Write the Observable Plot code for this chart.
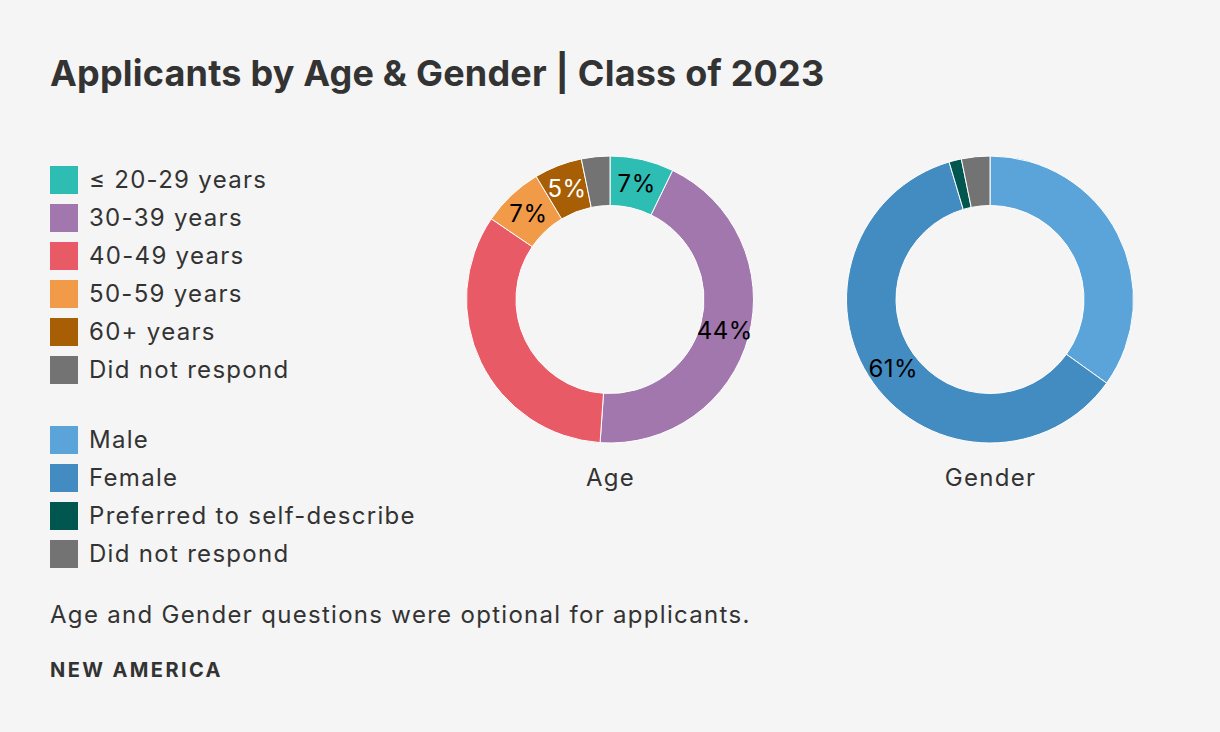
<!DOCTYPE html>
<html><head><meta charset="utf-8">
<script src="https://cdn.jsdelivr.net/npm/d3@7"></script>
<script src="https://cdn.jsdelivr.net/npm/@observablehq/plot@0.6"></script>
<style>
body{margin:0;background:#f5f5f5;font-family:Inter, "Noto Sans", sans-serif;color:#333;}
#wrap{position:relative;width:1220px;height:732px;overflow:hidden;background:#f5f5f5;}
.abs{position:absolute;white-space:nowrap;line-height:1;}
#title{left:50px;top:55px;font-size:36px;font-weight:700;letter-spacing:0.2px;}
#caption{left:50px;top:603px;font-size:24px;letter-spacing:1.3px;}
#source{left:50px;top:660px;font-size:20px;font-weight:700;letter-spacing:2.4px;}
.row{position:absolute;left:50px;height:28px;display:flex;align-items:center;}
.sw{width:28px;height:28px;margin-right:11px;flex:none;}
.lt{font-size:24px;line-height:1;white-space:nowrap;letter-spacing:1.3px;}
#chart{position:absolute;left:420px;top:140px;}
</style></head>
<body><div id="wrap">
<div class="abs" id="title">Applicants by Age &amp; Gender | Class of 2023</div>
<div id="legend"></div>
<div id="chart"></div>
<div class="abs" id="caption">Age and Gender questions were optional for applicants.</div>
<div class="abs" id="source">NEW AMERICA</div>
</div>
<script>
const charts = ["Age", "Gender"];
const ageLabels = ["≤ 20-29 years", "30-39 years", "40-49 years", "50-59 years", "60+ years", "Did not respond"];
const ageValues = [7.2, 43.9, 33.4, 6.9, 5.4, 3.2];
const ageColors = ["#2ebdb3", "#a177ad", "#e85b66", "#f19a48", "#a85e04", "#737373"];
const ageShowLabel = [true, true, false, true, true, false];
const ageLabelColors = ["#000", "#000", "#000", "#000", "#fff", "#000"];
const genderLabels = ["Male", "Female", "Preferred to self-describe", "Did not respond"];
const genderValues = [34.9, 60.5, 1.4, 3.2];
const genderColors = ["#5ba4da", "#428cc2", "#01574f", "#737373"];
const genderShowLabel = [false, true, false, false];
const genderLabelColors = ["#000", "#000", "#fff", "#000"];

const rows = [
  ...ageLabels.map((k, i) => ({chart: "Age", key: k, value: ageValues[i], color: ageColors[i], show: ageShowLabel[i], labelColor: ageLabelColors[i]})),
  ...genderLabels.map((k, i) => ({chart: "Gender", key: k, value: genderValues[i], color: genderColors[i], show: genderShowLabel[i], labelColor: genderLabelColors[i]}))
];

// Legend
const legend = document.getElementById("legend");
function addGroup(labels, colors, top0) {
  labels.forEach((l, i) => {
    const r = document.createElement("div");
    r.className = "row";
    r.style.top = (top0 + i * 38) + "px";
    r.innerHTML = `<div class="sw" style="background:${colors[i]}"></div><div class="lt">${l}</div>`;
    legend.appendChild(r);
  });
}
addGroup(ageLabels, ageColors, 166);
addGroup(genderLabels, genderColors, 426);

const donuts = Plot.dot(rows, {
  x: "chart",
  fill: "color",
  r: 0,
  render(index, scales, values, dimensions) {
    const g = d3.create("svg:g");
    const cy = (dimensions.marginTop + dimensions.height - dimensions.marginBottom) / 2;
    const arc = d3.arc().innerRadius(94).outerRadius(143.5);
    for (const c of charts) {
      const idx = Array.from(index).filter(i => rows[i].chart === c);
      const pie = d3.pie().sort(null).value(i => rows[i].value)(idx);
      const cx = scales.x(c);
      const gg = g.append("g").attr("transform", `translate(${cx},${cy})`);
      gg.selectAll("path").data(pie).join("path")
        .attr("d", arc)
        .attr("fill", d => values.fill[d.data])
        .attr("stroke", "#fff")
        .attr("stroke-width", 1);
      gg.selectAll("text").data(pie.filter(d => rows[d.data].show)).join("text")
        .attr("transform", d => `translate(${arc.centroid(d)})`)
        .attr("text-anchor", "middle")
        .attr("dy", "0.36em")
        .attr("fill", d => rows[d.data].labelColor)
        .style("font-size", "24px")
        .style("letter-spacing", "0.5px")
        .text(d => Math.round(rows[d.data].value) + "%");
    }
    return g.node();
  }
});

const plot = Plot.plot({
  width: 760,
  height: 370,
  marginTop: 0,
  marginBottom: 51,
  marginLeft: 0,
  marginRight: 0,
  style: {background: "transparent", fontFamily: "Inter, 'Noto Sans', sans-serif", color: "#333", letterSpacing: "1.3px"},
  x: {type: "point", domain: charts, range: [190, 570], padding: 0, label: null},
  marks: [
    donuts,
    Plot.axisX({anchor: "bottom", tickSize: 0, tickPadding: 9, fontSize: 24, fill: "#333", label: null})
  ]
});
document.getElementById("chart").appendChild(plot);
</script>
</body></html>
